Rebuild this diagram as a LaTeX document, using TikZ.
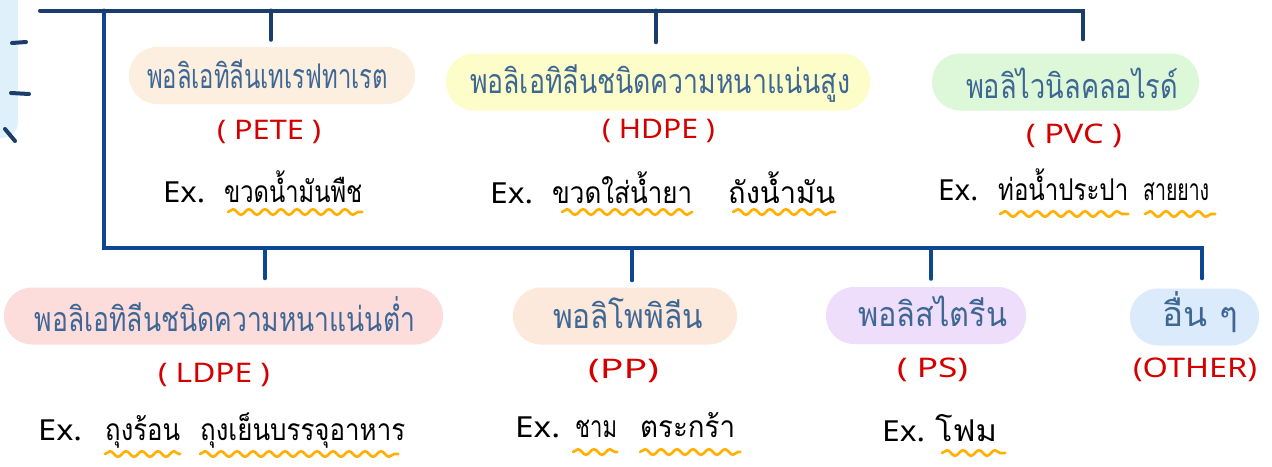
\documentclass[tikz,border=0pt]{standalone}
\usepackage{fontspec}
\usepackage{graphicx}
\usetikzlibrary{decorations.pathmorphing}
\setmainfont{Noto Sans}
\newfontfamily\thaifont[Script=Thai]{Loma}
\definecolor{navy}{HTML}{1B3D6C}
\definecolor{bline}{HTML}{0C4791}
\definecolor{cPETE}{HTML}{FCEFE0}
\definecolor{cHDPE}{HTML}{FDFDC9}
\definecolor{cPVC}{HTML}{DDF8D8}
\definecolor{cLDPE}{HTML}{FDDCDC}
\definecolor{cPP}{HTML}{FDE8DC}
\definecolor{cPS}{HTML}{EEDDFB}
\definecolor{cOTHER}{HTML}{DBEBFC}
\definecolor{cLEFT}{HTML}{DFF0FA}
\definecolor{btxt}{HTML}{3E6794}
\definecolor{rtxt}{HTML}{D40000}
\definecolor{wavec}{HTML}{FFB000}
\newcommand\xfit[2]{\setbox0=\hbox{#2}\pgfmathsetmacro\xfitsc{#1/\the\wd0}\scalebox{\xfitsc}[1]{\box0}}
\begin{document}
\begin{tikzpicture}[x=1pt,y=-1pt,
  pill/.style={rounded corners=28pt, minimum height=57pt, inner sep=0pt, draw=none},
  btext/.style={inner sep=0pt, anchor=base, text=btxt, font=\thaifont\fontsize{34}{34}\selectfont},
  rtext/.style={inner sep=0pt, text=rtxt, font=\fontsize{27}{27}\selectfont},
  extext/.style={inner sep=0pt, anchor=base west, font=\fontsize{29}{29}\selectfont},
  wtext/.style={inner sep=0pt, anchor=base west, font=\thaifont\fontsize{30}{30}\selectfont},
  navyline/.style={draw=navy, line width=4pt, line cap=round, line join=miter},
  blueline/.style={draw=bline, line width=4pt, line cap=round, line join=miter},
  wave/.style={draw=wavec, line width=2.6pt, line cap=round,
    decorate, decoration={snake, segment length=16pt, amplitude=2.8pt}}
]
\useasboundingbox (0,0) rectangle (1272,466);
\fill[white] (0,0) rectangle (1272,466);

% left cut-off element
\fill[cLEFT, rounded corners=16pt] (-30,-30) rectangle (18,138);
\draw[navyline] (12,43) -- (26,42);
\draw[navyline] (11,93) -- (29,94);
\draw[navyline] (5,129) -- (15,141);

% boxes
\node[pill, fill=cPETE, minimum width=286pt] (bPETE) at (272,75.5) {};
\node[pill, fill=cHDPE, minimum width=424pt] (bHDPE) at (658,82) {};
\node[pill, fill=cPVC, minimum width=267pt] (bPVC) at (1065.5,82) {};
\node[pill, fill=cLDPE, minimum width=439pt] (bLDPE) at (223.5,316) {};
\node[pill, fill=cPP, minimum width=224pt] (bPP) at (625,316) {};
\node[pill, fill=cPS, minimum width=200pt] (bPS) at (926,315.5) {};
\node[pill, fill=cOTHER, minimum width=129pt] (bOTHER) at (1194.5,317) {};

% box texts
\node[btext] (tPETE) at (267.5,88) {\xfit{241}{พอลิเอทิลีนเทเรฟทาเรต}};
\node[btext] (tHDPE) at (660,93) {\xfit{380}{พอลิเอทิลีนชนิดความหนาแน่นสูง}};
\node[btext] (tPVC) at (1072,98) {\xfit{212}{พอลิไวนิลคลอไรด์}};
\node[btext] (tLDPE) at (225,331) {\xfit{380}{พอลิเอทิลีนชนิดความหนาแน่นต่ำ}};
\node[btext] (tPP) at (628,328) {\xfit{150}{พอลิโพพิลีน}};
\node[btext] (tPS) at (932.5,326) {\xfit{149}{พอลิสไตรีน}};
\node[btext] (tOTHER) at (1200,326) {\xfit{76}{อื่น ๆ}};

% red labels
\node[rtext] (rPETE) at (269,132) {\xfit{104}{( PETE )}};
\node[rtext] (rHDPE) at (658.5,131) {\xfit{113}{( HDPE )}};
\node[rtext] (rPVC) at (1074,136) {\xfit{96}{( PVC )}};
\node[rtext] (rLDPE) at (214,375) {\xfit{112}{( LDPE )}};
\node[rtext] (rPP) at (623.5,371) {\xfit{71}{(PP)}};
\node[rtext] (rPS) at (932.5,370) {\xfit{71}{( PS)}};
\node[rtext] (rOTHER) at (1195,370) {\xfit{124}{(OTHER)}};

% examples
\node[extext] (ePETE) at (163,202) {\xfit{42}{Ex.}};
\node[wtext] (wPETE) at (224,202) {\xfit{138}{ขวดน้ำมันพืช}};
\node[extext] (eHDPE) at (490,203) {\xfit{43}{Ex.}};
\node[wtext] (wHDPE1) at (552,203) {\xfit{140}{ขวดใส่น้ำยา}};
\node[wtext] (wHDPE2) at (728,203) {\xfit{107}{ถังน้ำมัน}};
\node[extext] (ePVC) at (938,200) {\xfit{40}{Ex.}};
\node[wtext] (wPVC1) at (998,200) {\xfit{130}{ท่อน้ำประปา}};
\node[wtext] (wPVC2) at (1143,200) {\xfit{66}{สายยาง}};
\node[extext] (eLDPE) at (38,440) {\xfit{44}{Ex.}};
\node[wtext] (wLDPE1) at (105,440) {\xfit{75}{ถุงร้อน}};
\node[wtext] (wLDPE2) at (200,440) {\xfit{205}{ถุงเย็นบรรจุอาหาร}};
\node[extext] (ePP) at (515,437) {\xfit{45}{Ex.}};
\node[wtext] (wPP1) at (575,437) {\xfit{42}{ชาม}};
\node[wtext] (wPP2) at (640,437) {\xfit{95}{ตระกร้า}};
\node[extext] (ePS) at (882,441) {\xfit{43}{Ex.}};
\node[wtext] (wPS) at (935,441) {\xfit{62}{โฟม}};

% wavy underlines
\draw[wave] ([xshift=4pt,yshift=-10pt]wPETE.base west) -- ([yshift=-10pt]wPETE.base east);
\draw[wave] ([xshift=10pt,yshift=-9pt]wHDPE1.base west) -- ([yshift=-9pt]wHDPE1.base east);
\draw[wave] ([xshift=5pt,yshift=-9pt]wHDPE2.base west) -- ([yshift=-9pt]wHDPE2.base east);
\draw[wave] ([xshift=2pt,yshift=-14pt]wPVC1.base west) -- ([yshift=-14pt]wPVC1.base east);
\draw[wave] ([xshift=2pt,yshift=-14pt]wPVC2.base west) -- ([xshift=6pt,yshift=-14pt]wPVC2.base east);
\draw[wave] ([yshift=-14pt]wLDPE1.base west) -- ([yshift=-14pt]wLDPE1.base east);
\draw[wave] ([yshift=-14pt]wLDPE2.base west) -- ([xshift=-7pt,yshift=-14pt]wLDPE2.base east);
\draw[wave] ([xshift=-2pt,yshift=-15pt]wPP1.base west) -- ([yshift=-15pt]wPP1.base east);
\draw[wave] ([yshift=-15pt]wPP2.base west) -- ([xshift=5pt,yshift=-15pt]wPP2.base east);
\draw[wave] ([xshift=7pt,yshift=-12pt]wPS.base west) -- ([xshift=8pt,yshift=-12pt]wPS.base east);

% connector tree
\coordinate (tl) at (40,10.5);
\coordinate (tr) at (1083,10.5);
\coordinate (vt) at (103.5,10.5);
\coordinate (vb) at (103.5,248);
\coordinate (br) at (1202,248);
\coordinate (j1) at (271,10.5);
\coordinate (j2) at (656,10.5);
\coordinate (k1) at (265,248);
\coordinate (k2) at (632,248);
\coordinate (k3) at (931,248);
\draw[blueline, shorten >=10pt] (vt) -- (vb) -- (br) -- (br |- bOTHER.north);
\draw[blueline, shorten >=9pt] (k1) -- (k1 |- bLDPE.north);
\draw[blueline, shorten >=7pt] (k2) -- (k2 |- bPP.north);
\draw[blueline, shorten >=8pt] (k3) -- (k3 |- bPS.north);
\draw[navyline, shorten >=14pt] (tl) -- (tr) -- (tr |- bPVC.north);
\draw[navyline, shorten >=7pt] (j1) -- (j1 |- bPETE.north);
\draw[navyline, shorten >=11pt] (j2) -- (j2 |- bHDPE.north);
\end{tikzpicture}
\end{document}
